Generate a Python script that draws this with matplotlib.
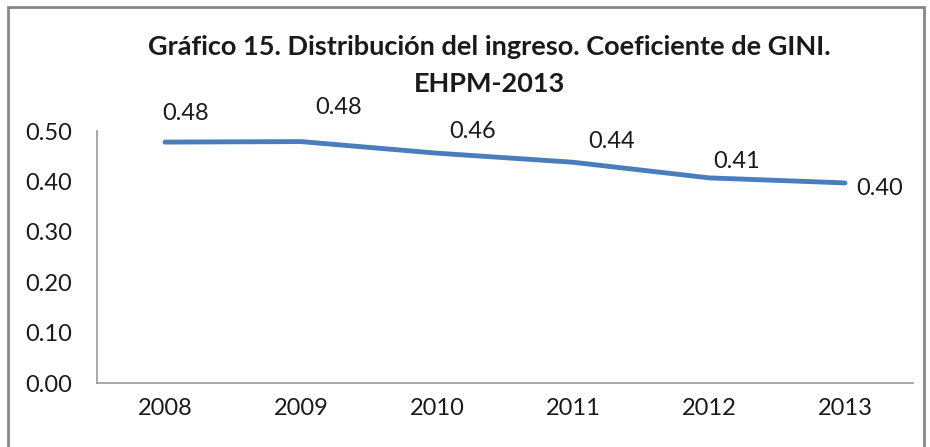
import matplotlib
matplotlib.use('Agg')
import matplotlib.pyplot as plt
from matplotlib.patches import Rectangle

plt.rcParams['font.family'] = ['Lato', 'DejaVu Sans']

# data
years = ['2008', '2009', '2010', '2011', '2012', '2013']
gini = [0.478, 0.479, 0.456, 0.438, 0.407, 0.397]
# label offsets (pixels) as placed in the original
lab_dx = [21, 38, 36, 39, 28, 35]
lab_dy = [29, 34, 22, 21, 16, -6]

fig = plt.figure(figsize=(9.30, 4.47), dpi=100)
ax = fig.add_axes([97/930, (447-383)/447, (913-97)/930, (383-131)/447])

x = list(range(len(years)))
ax.plot(x, gini, color='#4a7ebb', lw=3.5, solid_capstyle='round')
for i, v in enumerate(gini):
    ax.annotate('%.2f' % v, (x[i], v), xytext=(lab_dx[i], lab_dy[i]),
                textcoords='offset pixels', ha='center', va='center',
                fontsize=17, color='#1a1a1a')

ax.set_xlim(-0.5, len(years) - 0.5)
ax.set_ylim(0, 0.5)
ax.set_yticks([0, 0.1, 0.2, 0.3, 0.4, 0.5])
ax.set_yticklabels(['%.2f' % t for t in [0, 0.1, 0.2, 0.3, 0.4, 0.5]])
ax.set_xticks(x)
ax.set_xticklabels(years)
ax.tick_params(length=0, labelsize=17, colors='#1a1a1a', pad=11)
ax.tick_params(axis='y', pad=18)
for s in ['top', 'right']:
    ax.spines[s].set_visible(False)
for s in ['left', 'bottom']:
    ax.spines[s].set_color('#999999')
    ax.spines[s].set_linewidth(1.2)

fig.text(489/930, 1 - 47/447, 'Gráfico 15. Distribución del ingreso. Coeficiente de GINI.',
         ha='center', va='center', fontsize=19.5, fontweight='bold', color='#1a1a1a')
fig.text(489/930, 1 - 84/447, 'EHPM-2013',
         ha='center', va='center', fontsize=19.5, fontweight='bold', color='#1a1a1a')

# chart area border
fig.patches.append(Rectangle((8/930, -0.01), (924-8)/930, 1 - 7/447 + 0.01,
                             transform=fig.transFigure, fill=False,
                             edgecolor='#888888', lw=2))

fig.savefig('out.png', dpi=100)
